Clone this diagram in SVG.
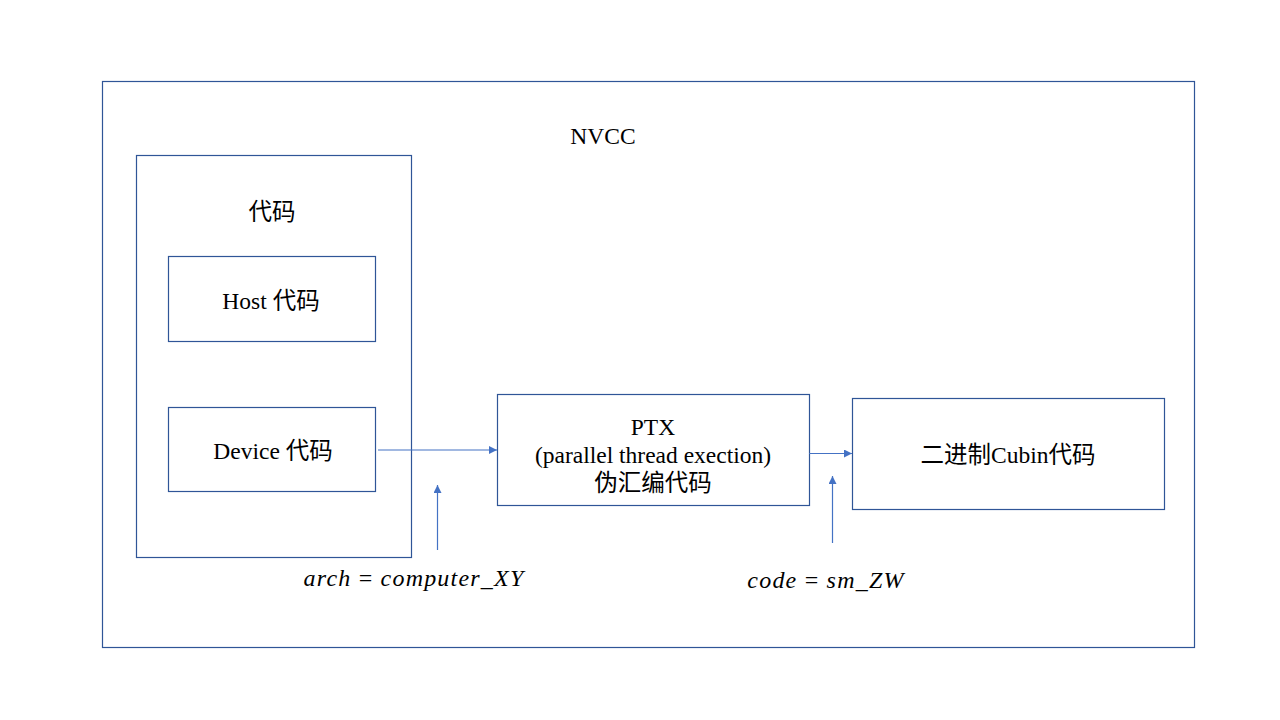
<svg xmlns="http://www.w3.org/2000/svg" width="1280" height="720" viewBox="0 0 1280 720">
<style>
.box{fill:#fff;stroke:#2F5597;stroke-width:1.2}
.t{font-family:"Liberation Serif","Noto Sans CJK SC",serif;font-size:23.5px;fill:#000;text-anchor:middle}
.m{font-family:"Liberation Serif","DejaVu Serif",serif;font-size:24px;font-style:italic;fill:#000;text-anchor:middle;letter-spacing:1.2px}
.c{stroke:#4472C4;stroke-width:1.2;fill:none}
</style>
<defs>
<marker id="ah" viewBox="0 0 10 10" refX="10" refY="5" markerWidth="8" markerHeight="8" markerUnits="userSpaceOnUse" orient="auto">
<path d="M0,0 L10,5 L0,10 z" fill="#4472C4"/>
</marker>
</defs>
<rect width="1280" height="720" fill="#fff"/>
<g id="nvcc">
<rect class="box" x="102.5" y="81.5" width="1092" height="566"/>
<text class="t" x="603" y="144">NVCC</text>
</g>
<g id="code">
<rect class="box" x="136.5" y="155.5" width="275" height="402"/>
<text class="t" x="272" y="220">代码</text>
</g>
<g id="host">
<rect class="box" x="168.5" y="256.5" width="207" height="85"/>
<text class="t" x="271" y="309">Host 代码</text>
</g>
<g id="device">
<rect class="box" x="168.5" y="407.5" width="207" height="84"/>
<text class="t" x="273" y="459">Device 代码</text>
</g>
<g id="ptx">
<rect class="box" x="497.5" y="394.5" width="312" height="111"/>
<text class="t" x="653" y="435">PTX</text>
<text class="t" x="653" y="463">(parallel thread exection)</text>
<text class="t" x="653" y="491">伪汇编代码</text>
</g>
<g id="cubin">
<rect class="box" x="852.5" y="398.5" width="312" height="111"/>
<text class="t" x="1008" y="463">二进制Cubin代码</text>
</g>
<g id="connectors">
<line class="c" x1="378" y1="450" x2="497" y2="450" marker-end="url(#ah)"/>
<line class="c" x1="809" y1="453.5" x2="852" y2="453.5" marker-end="url(#ah)"/>
<line class="c" x1="437.5" y1="550" x2="437.5" y2="485" marker-end="url(#ah)"/>
<line class="c" x1="832.5" y1="543" x2="832.5" y2="476" marker-end="url(#ah)"/>
</g>
<g id="labels">
<text class="m" x="414" y="586">arch <tspan font-style="normal">=</tspan> computer_XY</text>
<text class="m" x="826" y="588">code <tspan font-style="normal">=</tspan> sm_ZW</text>
</g>
</svg>
